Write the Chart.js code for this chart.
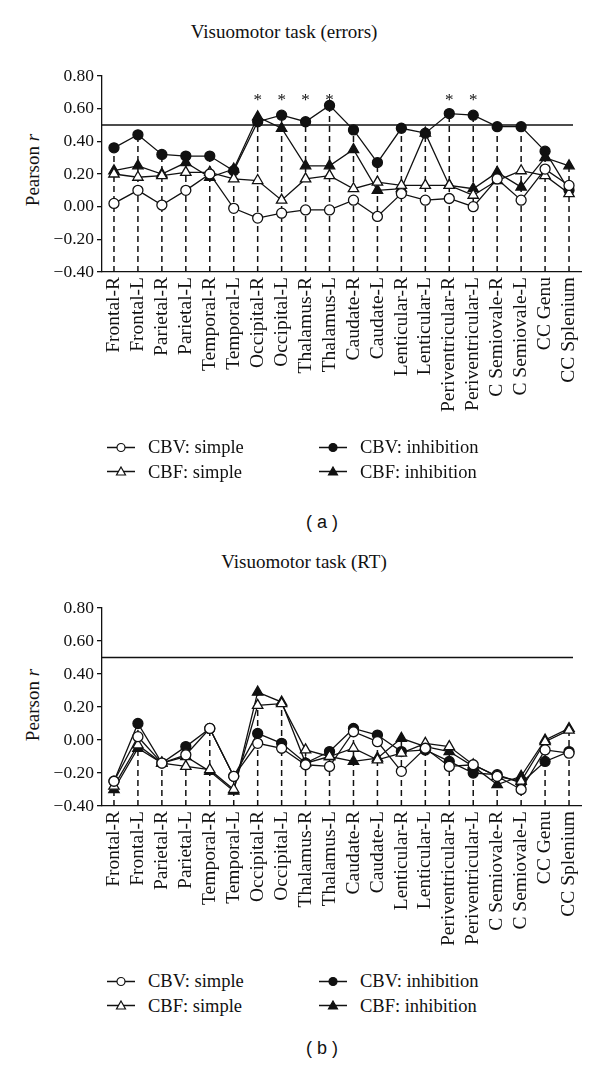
<!DOCTYPE html>
<html>
<head>
<meta charset="utf-8">
<script src="https://cdn.jsdelivr.net/npm/chart.js@4.4.1/dist/chart.umd.min.js"></script>
<style>
    body { margin: 0; background: #fff; width: 600px; height: 1068px; position: relative; overflow: hidden;
           font-family: "Liberation Serif", "DejaVu Serif", serif; color: #111; }
    .abs { position: absolute; white-space: nowrap; }
    .center { transform: translate(-50%, -50%); }
    .title { font-size: 19px; }
    .ytitle { font-size: 19px; transform: translate(-50%, -50%) rotate(-90deg); }
    .panel { font-family: "Liberation Sans", Arial, sans-serif; font-size: 18px; }
    .leg { font-size: 18.5px; display: flex; align-items: center; transform: translateY(-50%); }
    .leg svg { margin-right: 12px; }
    canvas { position: absolute; left: 0; }
</style>
</head>
<body>

<div class="abs center title" style="left:284px; top:32px;">Visuomotor task (errors)</div>
<div class="abs ytitle" style="left:33px; top:170px;">Pearson <i>r</i></div>
<canvas id="chartErrors" width="600" height="440" style="top:0;"></canvas>
<div id="legendErrors"></div>
<div class="abs center panel" style="left:322px; top:522px;">( a )</div>

<div class="abs center title" style="left:304px; top:562px;">Visuomotor task (RT)</div>
<div class="abs ytitle" style="left:33px; top:705px;">Pearson <i>r</i></div>
<canvas id="chartRT" width="600" height="440" style="top:530px;"></canvas>
<div id="legendRT"></div>
<div class="abs center panel" style="left:322px; top:1048px;">( b )</div>

<script>
// Regions (x categories)
const regions = [
    "Frontal-R", "Frontal-L", "Parietal-R", "Parietal-L", "Temporal-R", "Temporal-L",
    "Occipital-R", "Occipital-L", "Thalamus-R", "Thalamus-L", "Caudate-R", "Caudate-L",
    "Lenticular-R", "Lenticular-L", "Periventricular-R", "Periventricular-L",
    "C Semiovale-R", "C Semiovale-L", "CC Genu", "CC Splenium"
];

// y axis ticks
const yTicks = [-0.4, -0.2, 0, 0.2, 0.4, 0.6, 0.8];
const threshold = 0.5;

// (a) Visuomotor task (errors)
const errCbvSimple = [0.02, 0.10, 0.01, 0.10, 0.20, -0.01, -0.07, -0.04, -0.02, -0.02, 0.04, -0.06, 0.08, 0.04, 0.05, 0.00, 0.17, 0.04, 0.23, 0.13];
const errCbfSimple = [0.20, 0.18, 0.19, 0.21, 0.21, 0.17, 0.16, 0.04, 0.17, 0.19, 0.11, 0.15, 0.13, 0.13, 0.13, 0.07, 0.16, 0.22, 0.19, 0.08];
const errCbvInhib = [0.36, 0.44, 0.32, 0.31, 0.31, 0.22, 0.52, 0.56, 0.52, 0.62, 0.47, 0.27, 0.48, 0.45, 0.57, 0.56, 0.49, 0.49, 0.34, 0.10];
const errCbfInhib = [0.22, 0.25, 0.20, 0.27, 0.18, 0.23, 0.55, 0.48, 0.25, 0.25, 0.35, 0.10, 0.11, 0.45, 0.13, 0.11, 0.21, 0.12, 0.30, 0.25];
const errStars = ["Occipital-R", "Occipital-L", "Thalamus-R", "Thalamus-L", "Periventricular-R", "Periventricular-L"];
const starLevel = 0.67;

// (b) Visuomotor task (RT)
const rtCbvSimple = [-0.25, 0.02, -0.14, -0.09, 0.07, -0.22, -0.02, -0.05, -0.15, -0.16, 0.05, -0.01, -0.19, -0.05, -0.16, -0.15, -0.22, -0.30, -0.06, -0.08];
const rtCbfSimple = [-0.28, -0.03, -0.14, -0.16, -0.18, -0.30, 0.21, 0.22, -0.06, -0.10, -0.05, -0.12, -0.08, -0.02, -0.04, -0.15, -0.22, -0.25, -0.01, 0.06];
const rtCbvInhib = [-0.25, 0.10, -0.14, -0.04, 0.07, -0.22, 0.04, -0.02, -0.14, -0.07, 0.07, 0.03, -0.07, -0.06, -0.13, -0.20, -0.21, -0.26, -0.13, -0.07];
const rtCbfInhib = [-0.30, -0.05, -0.14, -0.10, -0.19, -0.31, 0.29, 0.23, -0.14, -0.10, -0.13, -0.11, 0.01, -0.04, -0.07, -0.16, -0.27, -0.22, 0.00, 0.07];

const ink = "#111";
const serif = '"Liberation Serif", "DejaVu Serif", serif';

// Series styles (open/filled circle and triangle)
const seriesStyles = [
    { label: "CBV: simple", style: "circle", fill: "#fff" },
    { label: "CBV: inhibition", style: "circle", fill: ink },
    { label: "CBF: simple", style: "triangle", fill: "#fff" },
    { label: "CBF: inhibition", style: "triangle", fill: ink }
];

function formatTick(v) {
    const s = Math.abs(v).toFixed(2);
    return v < -0.001 ? "\u2212" + s : s;
}

// Dashed drop lines, threshold line and significance stars
const extrasPlugin = {
    id: "extras",
    beforeDatasetsDraw(chart) {
        const { ctx, chartArea, scales } = chart;
        const xs = scales.x, ys = scales.y;
        ctx.save();
        ctx.strokeStyle = ink;

        // horizontal line at r = 0.5
        ctx.lineWidth = 1.3;
        ctx.setLineDash([]);
        const ty = ys.getPixelForValue(threshold);
        ctx.beginPath();
        ctx.moveTo(chartArea.left, ty);
        ctx.lineTo(chartArea.right - 8, ty);
        ctx.stroke();

        // vertical dashed lines up to the highest point in each region
        ctx.lineWidth = 1.5;
        ctx.setLineDash([6, 4]);
        regions.forEach((r, i) => {
            const top = Math.max(...chart.data.datasets.map((d) => d.data[i]));
            const x = xs.getPixelForValue(i);
            ctx.beginPath();
            ctx.moveTo(x, chartArea.bottom);
            ctx.lineTo(x, ys.getPixelForValue(top));
            ctx.stroke();
        });
        ctx.restore();
    },
    afterDraw(chart, args, opts) {
        if (!opts.stars) return;
        const { ctx, scales } = chart;
        ctx.save();
        ctx.fillStyle = ink;
        ctx.font = "17px " + serif;
        ctx.textAlign = "center";
        ctx.textBaseline = "middle";
        opts.stars.forEach((name) => {
            const x = scales.x.getPixelForValue(regions.indexOf(name));
            ctx.fillText("*", x, scales.y.getPixelForValue(starLevel) + 3);
        });
        ctx.restore();
    }
};

function makeChart(id, seriesData, padTop, xHeight, stars) {
    const datasets = seriesData.map((values, k) => ({
        label: seriesStyles[k].label,
        data: values,
        borderColor: ink,
        borderWidth: 1.3,
        pointStyle: seriesStyles[k].style,
        pointRadius: seriesStyles[k].style === "circle" ? 5 : 6,
        pointBackgroundColor: seriesStyles[k].fill,
        pointBorderColor: ink,
        pointBorderWidth: 1.3,
        tension: 0,
        fill: false
    }));
    // draw open markers last so they sit on top
    const order = [1, 3, 2, 0];
    datasets.forEach((d, k) => { d.order = order.indexOf(k) * -1; });

    return new Chart(document.getElementById(id), {
        type: "line",
        data: { labels: regions, datasets: datasets },
        options: {
            responsive: false,
            animation: false,
            devicePixelRatio: 1,
            layout: { padding: { top: padTop, right: 19, left: 0, bottom: 0 } },
            plugins: {
                legend: { display: false },
                tooltip: { enabled: false },
                extras: { stars: stars }
            },
            scales: {
                x: {
                    type: "category",
                    offset: true,
                    ticks: {
                        autoSkip: false, maxRotation: 90, minRotation: 90,
                        color: ink, font: { family: serif, size: 19.5 }, padding: 5
                    },
                    grid: { display: true, drawOnChartArea: false, drawTicks: false },
                    border: { display: true, color: ink, width: 1.3 },
                    afterFit: (s) => { s.height = xHeight; }
                },
                y: {
                    min: yTicks[0],
                    max: yTicks[yTicks.length - 1],
                    afterBuildTicks: (s) => { s.ticks = yTicks.map((v) => ({ value: v })); },
                    ticks: {
                        callback: (v) => formatTick(v),
                        color: ink, font: { family: serif, size: 17.5 }, padding: 3
                    },
                    grid: { drawOnChartArea: false, drawTicks: true, tickLength: 5, color: ink, lineWidth: 1.3 },
                    border: { display: true, color: ink, width: 1.3 },
                    afterFit: (s) => { s.width = 102; }
                }
            }
        },
        plugins: [extrasPlugin]
    });
}

function legendIcon(style, fill) {
    const marker = style === "circle"
        ? `<circle cx="15" cy="8" r="4" fill="${fill}" stroke="${ink}" stroke-width="1.2"/>`
        : `<polygon points="15,3.5 19.5,11.5 10.5,11.5" fill="${fill}" stroke="${ink}" stroke-width="1.2"/>`;
    return `<svg width="30" height="16"><line x1="1" y1="8" x2="29" y2="8" stroke="${ink}" stroke-width="1.4"/>${marker}</svg>`;
}

function renderLegend(id, rowTop) {
    const container = document.getElementById(id);
    const cols = [106, 318];
    // order in picture: CBV simple, CBV inhibition / CBF simple, CBF inhibition
    seriesStyles.forEach((s, k) => {
        const col = k % 2, row = Math.floor(k / 2);
        const html = `<div class="abs leg" style="left:${cols[col]}px; top:${rowTop + row * 24.5}px;">
            ${legendIcon(s.style, s.fill)}<span>${s.label}</span></div>`;
        container.insertAdjacentHTML("beforeend", html);
    });
}

makeChart("chartErrors", [errCbvSimple, errCbvInhib, errCbfSimple, errCbfInhib], 76, 168, errStars);
makeChart("chartRT", [rtCbvSimple, rtCbvInhib, rtCbfSimple, rtCbfInhib], 78, 164, null);

renderLegend("legendErrors", 447);
renderLegend("legendRT", 981);
</script>
</body>
</html>
